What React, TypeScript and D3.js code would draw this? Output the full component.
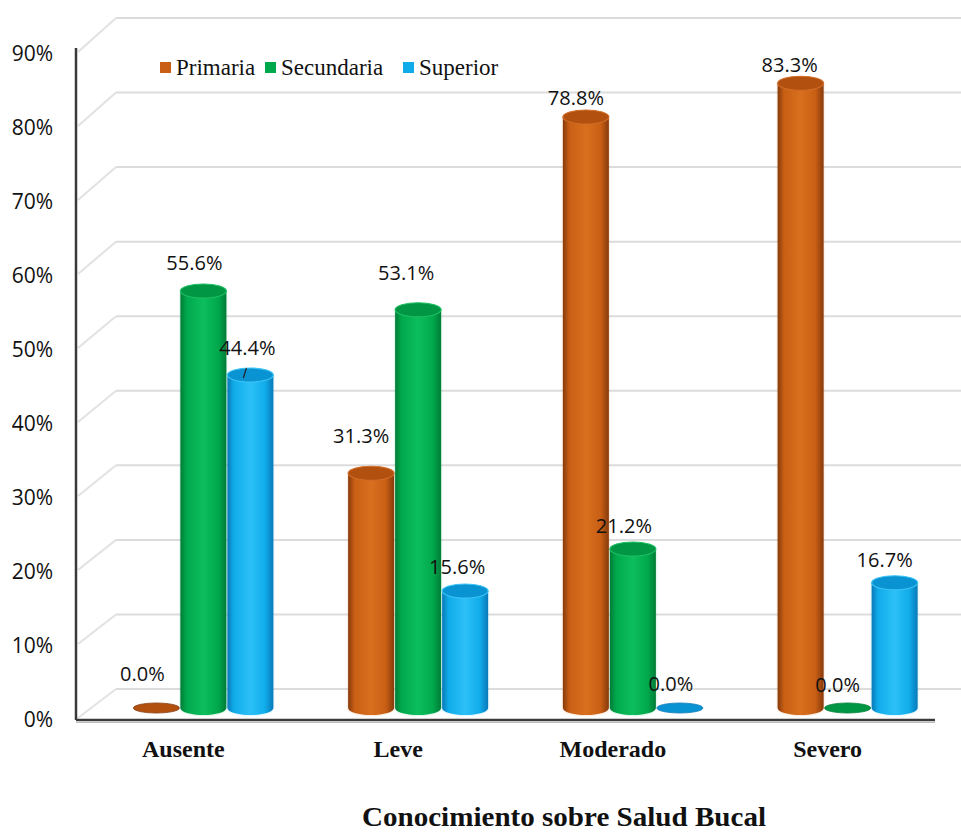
import React from "react";
import * as d3 from "d3";

// Knowledge level categories and education-level series (percent)
const categories = ["Ausente", "Leve", "Moderado", "Severo"];
const seriesNames = ["Primaria", "Secundaria", "Superior"];
const primaria = [0.0, 31.3, 78.8, 83.3];
const secundaria = [55.6, 53.1, 21.2, 0.0];
const superior = [44.4, 15.6, 0.0, 16.7];
const yTicks = [0, 10, 20, 30, 40, 50, 60, 70, 80, 90];

// Per-series label nudges [dx, dy] relative to the top of each cylinder
const primariaLabelNudge: [number, number][] = [[-14, -27], [-10, -30], [-10, -12], [-11, -11]];
const secundariaLabelNudge: [number, number][] = [[-9, -21], [-12, -30], [-9, -16], [-10, -16]];
const superiorLabelNudge: [number, number][] = [[-3, -20], [-8, -17], [-9, -17], [-10, -16]];

const W = 961;
const H = 835;

const palette = {
  Primaria: { base: "#C85F14", light: "#D8701F", dark: "#873A0C", top: "#B2500F", rim: "#D26D28" },
  Secundaria: { base: "#00A94C", light: "#0DBE5D", dark: "#007C37", top: "#009643", rim: "#1FBF63" },
  Superior: { base: "#10ACEA", light: "#2CC0F7", dark: "#0A78B8", top: "#0A93D2", rim: "#3CC4F6" },
} as Record<string, { base: string; light: string; dark: string; top: string; rim: string }>;

export default function App() {
  const x0 = 76;
  const x1 = 935;
  const depthShift = 20; // horizontal shift of the bar plane

  const x = d3.scaleBand<string>().domain(categories).range([x0, x1]);
  const inner = d3.scaleBand<string>().domain(seriesNames).range([-70.5, 70.5]);

  const yFront = d3.scaleLinear().domain([0, 90]).range([720, 54]);
  const yBack = d3.scaleLinear().domain([0, 90]).range([689, 18]);
  const yBar = d3.scaleLinear().domain([0, 90]).range([708, 708 - 675]);

  const backDx = 40;

  const seriesData = [
    { name: "Primaria", values: primaria, nudge: primariaLabelNudge },
    { name: "Secundaria", values: secundaria, nudge: secundariaLabelNudge },
    { name: "Superior", values: superior, nudge: superiorLabelNudge },
  ];

  const bw = inner.bandwidth() - 1;
  const rx = bw / 2;
  const ry = 7;

  const legendItems = [
    { name: "Primaria", x: 160 },
    { name: "Secundaria", x: 265 },
    { name: "Superior", x: 403 },
  ];

  return (
    <svg
      width={W}
      height={H}
      viewBox={`0 0 ${W} ${H}`}
      style={{ position: "absolute", left: 0, top: 0, background: "#ffffff" }}
    >
      <defs>
        {seriesNames.map((s) => (
          <linearGradient key={s} id={`grad-${s}`} x1="0" x2="1" y1="0" y2="0">
            <stop offset="0%" stopColor={palette[s].dark} />
            <stop offset="14%" stopColor={palette[s].base} />
            <stop offset="50%" stopColor={palette[s].light} />
            <stop offset="82%" stopColor={palette[s].base} />
            <stop offset="100%" stopColor={palette[s].dark} />
          </linearGradient>
        ))}
        <filter id="soft" x="-20%" y="-5%" width="140%" height="110%">
          <feGaussianBlur stdDeviation="0.8" />
        </filter>
      </defs>

      <rect x={0} y={0} width={W} height={H} fill="#ffffff" />

      {/* back wall gridlines and left wall diagonals */}
      <g>
        {yTicks.map((t) => (
          <g key={t}>
            <line
              x1={x0 + backDx}
              x2={W}
              y1={yBack(t)}
              y2={yBack(t)}
              stroke="#dcdcdc"
              strokeWidth={2}
            />
            <line
              x1={x0 + 2}
              y1={yFront(t) - 2}
              x2={x0 + backDx}
              y2={yBack(t)}
              stroke="#e2e2e2"
              strokeWidth={2}
            />
          </g>
        ))}
      </g>

      {/* axes */}
      <line x1={x0} x2={x0} y1={48} y2={720} stroke="#3a3a3a" strokeWidth={2.5} />
      <line x1={x0} x2={x1} y1={720} y2={720} stroke="#3a3a3a" strokeWidth={2.5} />
      <line x1={x0} x2={x1} y1={722.5} y2={722.5} stroke="#bdbdbd" strokeWidth={1} />

      {/* y tick labels */}
      {yTicks.map((t) => (
        <text
          key={t}
          x={53}
          y={yFront(t) + 7}
          textAnchor="end"
          fontFamily="'Open Sans', sans-serif"
          fontSize={21}
          fill="#111"
        >
          {`${t}%`}
        </text>
      ))}

      {/* cylinders */}
      {categories.map((c, ci) => {
        const groupCx = (x(c) as number) + x.bandwidth() / 2 + depthShift;
        return (
          <g key={c}>
            {seriesData.map((s) => {
              const v = s.values[ci];
              const cx = groupCx + (inner(s.name) as number) + inner.bandwidth() / 2;
              const base = yBar(0);
              const top = yBar(v);
              const col = palette[s.name];
              if (v <= 0) {
                return (
                  <ellipse
                    key={s.name}
                    cx={cx}
                    cy={base}
                    rx={rx}
                    ry={5}
                    fill={col.top}
                    stroke={col.dark}
                    strokeWidth={0.8}
                  />
                );
              }
              const left = cx - rx;
              const right = cx + rx;
              const body = `M${left},${top} L${left},${base} A${rx},${ry} 0 0 0 ${right},${base} L${right},${top} Z`;
              return (
                <g key={s.name}>
                  <path d={body} fill={col.light} opacity={0.35} filter="url(#soft)" />
                  <path d={body} fill={`url(#grad-${s.name})`} />
                  <ellipse cx={cx} cy={top} rx={rx} ry={ry} fill={col.top} stroke={col.rim} strokeWidth={1.2} />
                </g>
              );
            })}
          </g>
        );
      })}

      {/* value labels */}
      {categories.map((c, ci) => {
        const groupCx = (x(c) as number) + x.bandwidth() / 2 + depthShift;
        return seriesData.map((s) => {
          const v = s.values[ci];
          const cx = groupCx + (inner(s.name) as number) + inner.bandwidth() / 2;
          const [dx, dy] = s.nudge[ci];
          return (
            <text
              key={`${c}-${s.name}`}
              x={cx + dx}
              y={yBar(v) + dy}
              textAnchor="middle"
              fontFamily="'Open Sans', sans-serif"
              fontSize={20}
              fill="#111"
            >
              {`${v.toFixed(1)}%`}
            </text>
          );
        });
      })}

      {/* small leader tick under the Superior label of the first category */}
      {(() => {
        const cx =
          (x(categories[0]) as number) + x.bandwidth() / 2 + depthShift + (inner("Superior") as number) + inner.bandwidth() / 2;
        const ty = yBar(superior[0]);
        return <line x1={cx - 7} y1={ty + 3} x2={cx - 4} y2={ty - 7} stroke="#222" strokeWidth={1.2} />;
      })()}

      {/* category labels */}
      {categories.map((c) => (
        <text
          key={c}
          x={(x(c) as number) + x.bandwidth() / 2}
          y={757}
          textAnchor="middle"
          fontFamily="'Liberation Serif', 'Times New Roman', serif"
          fontWeight="bold"
          fontSize={24}
          fill="#111"
        >
          {c}
        </text>
      ))}

      {/* legend */}
      {legendItems.map((l) => (
        <g key={l.name}>
          <rect x={l.x} y={62} width={11} height={11} fill={palette[l.name].base} />
          <text
            x={l.x + 16}
            y={75}
            fontFamily="'Liberation Serif', 'Times New Roman', serif"
            fontSize={23}
            fill="#111"
          >
            {l.name}
          </text>
        </g>
      ))}

      {/* axis title */}
      <text
        x={564}
        y={826}
        textAnchor="middle"
        fontFamily="'Liberation Serif', 'Times New Roman', serif"
        fontWeight="bold"
        fontSize={27}
        textLength={404}
        lengthAdjust="spacingAndGlyphs"
        fill="#111"
      >
        Conocimiento sobre Salud Bucal
      </text>
    </svg>
  );
}
